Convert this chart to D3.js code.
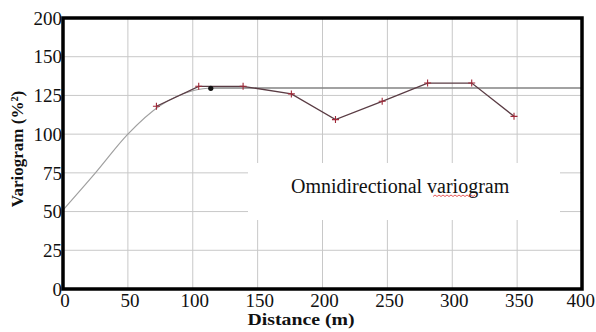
<!DOCTYPE html>
<html>
<head>
<meta charset="utf-8">
<script src="https://d3js.org/d3.v7.min.js"></script>
<style>
  body { margin: 0; background: #fff; }
  svg text { font-family: "Liberation Serif", "Times New Roman", serif; fill: #111; }
  .grid line { stroke: #c8c8c8; stroke-width: 1; }
</style>
</head>
<body>
<svg id="chart" width="596" height="332"></svg>
<script>
// experimental variogram (distance m, variogram %^2)
var lagDist = [72, 104.6, 138.8, 176, 210, 246, 281, 315, 347.6];
var lagGamma = [118, 130.9, 130.9, 126, 109.4, 121.2, 133, 133, 111.5];

// fitted model curve
var modelDist = [0, 25, 50, 75, 100, 115, 400];
var modelGamma = [51, 75, 100, 118.5, 128, 129.8, 129.8];

var sill = 129.8;
var rangePoint = [113.9, 129.6];

var xTicks = [0, 50, 100, 150, 200, 250, 300, 350, 400];
var yTicks = [0, 25, 50, 75, 100, 125, 150, 175];
var yTickLabels = ["0", "25", "50", "75", "100", "125", "150", "200"];

var svg = d3.select("#chart"),
    margin = {top: 18, right: 14, bottom: 43, left: 63},
    width = +svg.attr("width") - margin.left - margin.right,
    height = +svg.attr("height") - margin.top - margin.bottom;

var x = d3.scaleLinear().domain([0, 400]).range([0, width]);
var y = d3.scaleLinear().domain([0, 175]).range([height, 0]);

var g = svg.append("g").attr("transform", "translate(" + margin.left + "," + margin.top + ")");

// grid
var grid = g.append("g").attr("class", "grid");
grid.selectAll("line.v").data(xTicks.slice(1, -1)).enter().append("line")
    .attr("x1", function(d) { return x(d); }).attr("x2", function(d) { return x(d); })
    .attr("y1", 0).attr("y2", height);
grid.selectAll("line.h").data(yTicks.slice(1, -1)).enter().append("line")
    .attr("y1", function(d) { return y(d); }).attr("y2", function(d) { return y(d); })
    .attr("x1", 0).attr("x2", width);

// model
var line = d3.line()
    .x(function(d) { return x(d[0]); })
    .y(function(d) { return y(d[1]); })
    .curve(d3.curveMonotoneX);

var model = modelDist.map(function(d, i) { return [d, modelGamma[i]]; });
g.append("path").datum(model)
    .attr("d", line)
    .attr("fill", "none")
    .attr("stroke", "#a0a0a0")
    .attr("stroke-width", 1.2);

// sill line
g.append("line")
    .attr("x1", x(rangePoint[0])).attr("x2", width)
    .attr("y1", y(sill)).attr("y2", y(sill))
    .attr("stroke", "#777").attr("stroke-width", 1.2);

// experimental
var lags = lagDist.map(function(d, i) { return [d, lagGamma[i]]; });
g.append("path").datum(lags)
    .attr("d", line.curve(d3.curveLinear))
    .attr("fill", "none")
    .attr("stroke", "#5a3c44")
    .attr("stroke-width", 1.3);

g.selectAll("path.plus").data(lags).enter().append("path")
    .attr("class", "plus")
    .attr("transform", function(d) { return "translate(" + x(d[0]) + "," + y(d[1]) + ")"; })
    .attr("d", "M-3.5,0H3.5M0,-3.5V3.5")
    .attr("stroke", "#a02838")
    .attr("stroke-width", 1.1);

g.append("circle")
    .attr("cx", x(rangePoint[0])).attr("cy", y(rangePoint[1]))
    .attr("r", 2.6)
    .attr("fill", "#111");

// label box
g.append("rect")
    .attr("x", 248 - margin.left).attr("y", 163 - margin.top)
    .attr("width", 312).attr("height", 57)
    .attr("fill", "#fff");

svg.append("text")
    .attr("x", 291).attr("y", 193)
    .attr("font-size", 20)
    .text("Omnidirectional variogram");

// red spell-check squiggle
var sq = "M433,196.5";
for (var i = 0; i < 21; i++) {
  sq += "l2," + (i % 2 ? 1.5 : -1.5);
}
svg.append("path").attr("d", sq)
    .attr("fill", "none").attr("stroke", "#e03030").attr("stroke-width", 0.8);

// axes labels
g.selectAll("text.xt").data(xTicks).enter().append("text")
    .attr("x", function(d, i) { return i === xTicks.length - 1 ? x(d) + 13 : x(d) + 2; })
    .attr("y", height + 18)
    .attr("text-anchor", function(d, i) { return i === xTicks.length - 1 ? "end" : "middle"; })
    .attr("font-size", 19)
    .text(function(d) { return d; });

g.selectAll("text.yt").data(yTicks).enter().append("text")
    .attr("x", -1)
    .attr("y", function(d) { return y(d); })
    .attr("dy", "0.35em")
    .attr("text-anchor", "end")
    .attr("font-size", 19)
    .text(function(d, i) { return yTickLabels[i]; });

svg.append("text")
    .attr("x", 301).attr("y", 325)
    .attr("text-anchor", "middle")
    .attr("font-size", 16).attr("font-weight", "bold")
    .attr("textLength", 107).attr("lengthAdjust", "spacingAndGlyphs")
    .text("Distance (m)");

svg.append("text")
    .attr("transform", "translate(23,149) rotate(-90)")
    .attr("text-anchor", "middle")
    .attr("font-size", 17).attr("font-weight", "bold")
    .text("Variogram (%²)");

// frame
g.append("rect")
    .attr("width", width).attr("height", height)
    .attr("fill", "none")
    .attr("stroke", "#000")
    .attr("stroke-width", 3.5);
</script>
</body>
</html>
